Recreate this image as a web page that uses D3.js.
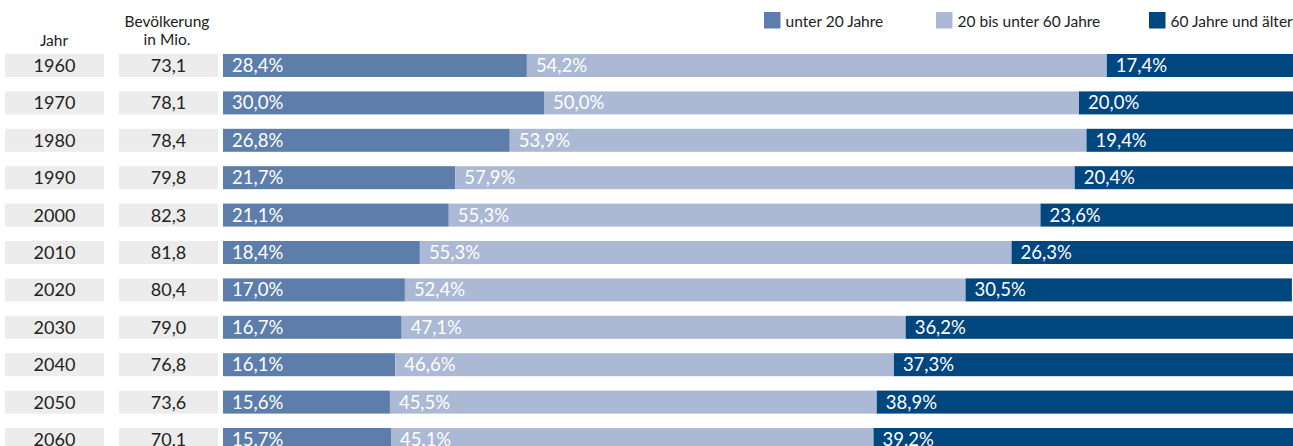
<!DOCTYPE html>
<html>
<head>
<meta charset="utf-8">
<script src="https://cdn.jsdelivr.net/npm/d3@7"></script>
<style>
  html, body { margin: 0; padding: 0; background: #fff; }
  svg { display: block; font-family: Lato, "Noto Sans", sans-serif; }
</style>
</head>
<body>
<svg id="chart" width="1293" height="446"></svg>
<script>
// Altersstruktur der Bevölkerung in Deutschland
const years = ["1960","1970","1980","1990","2000","2010","2020","2030","2040","2050","2060"];
const population = ["73,1","78,1","78,4","79,8","82,3","81,8","80,4","79,0","76,8","73,6","70,1"];
const under20 = [28.4, 30.0, 26.8, 21.7, 21.1, 18.4, 17.0, 16.7, 16.1, 15.6, 15.7];
const from20to60 = [54.2, 50.0, 53.9, 57.9, 55.3, 55.3, 52.4, 47.1, 46.6, 45.5, 45.1];
const over60 = [17.4, 20.0, 19.4, 20.4, 23.6, 26.3, 30.5, 36.2, 37.3, 38.9, 39.2];
const seriesNames = ["unter 20 Jahre", "20 bis unter 60 Jahre", "60 Jahre und älter"];
const seriesColors = ["#5d7eab", "#abb9d5", "#00467f"];

const svg = d3.select("#chart");
const fmt = v => v.toFixed(1).replace(".", ",") + "%";

const rows = years.map((y, i) => ({
  year: y, pop: population[i],
  parts: [under20[i], from20to60[i], over60[i]]
}));

// row layout: 23px bars, 37.4px apart
const step = 37.4, pad = 0.385;
const yScale = d3.scaleBand().domain(years)
  .range([54, 54 + step * (years.length - pad)])
  .paddingInner(pad).paddingOuter(0);
const xScale = d3.scaleLinear().domain([0, 100]).range([223, 1293]);
const bh = yScale.bandwidth();

// column headers
const head = svg.append("g").attr("font-size", 15.5).attr("fill", "#222").attr("text-anchor", "middle");
head.append("text").attr("x", 54).attr("y", 46).text("Jahr");
head.append("text").attr("x", 167).attr("y", 27).text("Bevölkerung");
head.append("text").attr("x", 167).attr("y", 45).text("in Mio.");

// legend
const legendX = [764, 936, 1149];
const legend = svg.append("g").selectAll("g").data(seriesNames).join("g")
  .attr("transform", (d, i) => `translate(${legendX[i]},12)`);
legend.append("rect").attr("width", 16.5).attr("height", 16.5).attr("fill", (d, i) => seriesColors[i]);
legend.append("text").attr("x", 21.5).attr("y", 14.5).attr("font-size", 15.5).attr("fill", "#222").text(d => d);

// rows
const row = svg.append("g").selectAll("g").data(rows).join("g")
  .attr("transform", d => `translate(0,${yScale(d.year)})`);

row.append("rect").attr("x", 5).attr("width", 99).attr("height", bh).attr("fill", "#ececec");
row.append("text").attr("x", 54.5).attr("y", 18).attr("text-anchor", "middle")
  .attr("font-size", 18).attr("fill", "#222").text(d => d.year);
row.append("rect").attr("x", 119).attr("width", 99).attr("height", bh).attr("fill", "#ececec");
row.append("text").attr("x", 168.5).attr("y", 18).attr("text-anchor", "middle")
  .attr("font-size", 18).attr("fill", "#222").text(d => d.pop);

const seg = row.selectAll("g.seg").data(d => {
  let acc = 0;
  return d.parts.map((v, k) => { const s = { k, v, x0: acc }; acc += v; return s; });
}).join("g").attr("class", "seg");
seg.append("rect")
  .attr("x", d => xScale(d.x0))
  .attr("width", d => xScale(d.x0 + d.v) - xScale(d.x0))
  .attr("height", bh)
  .attr("fill", d => seriesColors[d.k]);
seg.append("text")
  .attr("x", d => xScale(d.x0) + 9)
  .attr("y", 18)
  .attr("font-size", 18.5).attr("fill", "#fff")
  .text(d => fmt(d.v));
</script>
</body>
</html>
